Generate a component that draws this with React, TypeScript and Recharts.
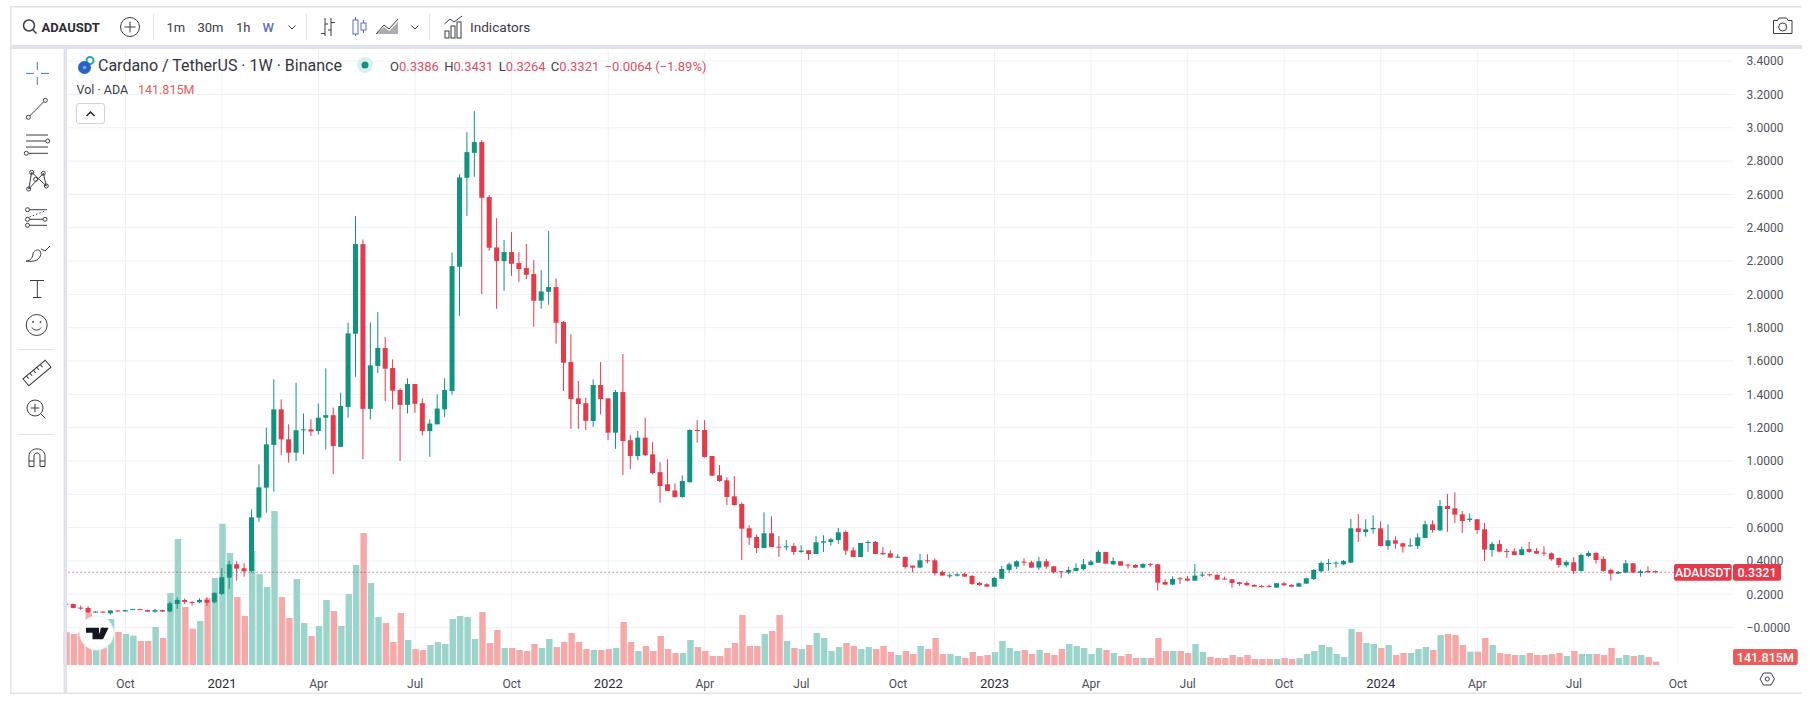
import { Bar, CartesianGrid, Cell, ComposedChart, ReferenceLine, XAxis, YAxis } from "recharts";

const opens = [
  0.144, 0.142, 0.12, 0.118, 0.09, 0.096, 0.086, 0.103, 0.097, 0.107,
  0.111, 0.105, 0.096, 0.105, 0.097, 0.142, 0.166, 0.154, 0.152, 0.166,
  0.152, 0.202, 0.3, 0.38, 0.356, 0.34, 0.66, 0.84, 1.097, 1.31,
  1.13, 1.05, 1.185, 1.19, 1.18, 1.26, 1.275, 1.085, 1.325, 1.764,
  2.302, 1.313, 1.57, 1.678, 1.558, 1.426, 1.337, 1.462, 1.347, 1.18,
  1.22, 1.31, 1.42, 2.166, 2.7, 2.85, 2.914, 2.584, 2.282, 2.2,
  2.254, 2.188, 2.158, 2.122, 1.962, 2.016, 2.044, 1.834, 1.594, 1.376,
  1.347, 1.24, 1.456, 1.376, 1.17, 1.414, 1.125, 1.03, 1.14, 1.04,
  0.933, 0.86, 0.823, 0.784, 0.873, 1.186, 1.186, 1.03, 0.914, 0.884,
  0.788, 0.742, 0.596, 0.544, 0.478, 0.566, 0.486, 0.484, 0.49, 0.454,
  0.464, 0.442, 0.51, 0.514, 0.526, 0.574, 0.464, 0.424, 0.508, 0.514,
  0.448, 0.446, 0.42, 0.424, 0.372, 0.36, 0.404, 0.404, 0.334, 0.31,
  0.312, 0.322, 0.31, 0.268, 0.26, 0.246, 0.294, 0.346, 0.366, 0.396,
  0.392, 0.36, 0.398, 0.368, 0.338, 0.33, 0.34, 0.352, 0.376, 0.39,
  0.454, 0.38, 0.398, 0.378, 0.376, 0.36, 0.382, 0.38, 0.274, 0.258,
  0.296, 0.294, 0.282, 0.312, 0.32, 0.316, 0.294, 0.29, 0.272, 0.268,
  0.256, 0.25, 0.25, 0.24, 0.266, 0.256, 0.246, 0.264, 0.292, 0.338,
  0.384, 0.384, 0.38, 0.39, 0.596, 0.574, 0.59, 0.596, 0.49, 0.524,
  0.506, 0.49, 0.49, 0.538, 0.62, 0.584, 0.73, 0.716, 0.68, 0.646,
  0.65, 0.59, 0.466, 0.502, 0.46, 0.458, 0.436, 0.472, 0.46, 0.45,
  0.446, 0.418, 0.374, 0.392, 0.34, 0.43, 0.448, 0.412, 0.346, 0.324,
  0.33, 0.386, 0.328, 0.34, 0.3386,
];

const closes = [
  0.139, 0.118, 0.117, 0.09, 0.096, 0.093, 0.103, 0.1, 0.105, 0.111,
  0.106, 0.096, 0.105, 0.096, 0.146, 0.166, 0.154, 0.152, 0.166, 0.15,
  0.208, 0.302, 0.38, 0.354, 0.338, 0.662, 0.842, 1.1, 1.31, 1.13,
  1.05, 1.184, 1.19, 1.177, 1.26, 1.275, 1.09, 1.33, 1.766, 2.302,
  1.313, 1.574, 1.678, 1.554, 1.422, 1.337, 1.462, 1.343, 1.18, 1.225,
  1.315, 1.426, 2.17, 2.702, 2.854, 2.914, 2.58, 2.28, 2.2, 2.254,
  2.184, 2.152, 2.118, 1.962, 2.018, 2.044, 1.83, 1.59, 1.372, 1.342,
  1.241, 1.456, 1.372, 1.17, 1.414, 1.12, 1.03, 1.14, 1.035, 0.927,
  0.85, 0.82, 0.784, 0.88, 1.186, 1.18, 1.024, 0.912, 0.88, 0.784,
  0.736, 0.594, 0.54, 0.478, 0.566, 0.484, 0.482, 0.488, 0.454, 0.462,
  0.442, 0.512, 0.518, 0.53, 0.572, 0.462, 0.424, 0.508, 0.514, 0.442,
  0.44, 0.42, 0.426, 0.364, 0.36, 0.404, 0.4, 0.326, 0.312, 0.314,
  0.32, 0.306, 0.262, 0.256, 0.246, 0.298, 0.352, 0.38, 0.398, 0.39,
  0.36, 0.398, 0.366, 0.332, 0.332, 0.346, 0.358, 0.38, 0.396, 0.454,
  0.384, 0.4, 0.372, 0.372, 0.36, 0.382, 0.378, 0.27, 0.258, 0.292,
  0.29, 0.282, 0.312, 0.318, 0.314, 0.288, 0.29, 0.268, 0.262, 0.254,
  0.246, 0.244, 0.246, 0.266, 0.254, 0.246, 0.266, 0.296, 0.346, 0.388,
  0.388, 0.39, 0.4, 0.596, 0.574, 0.59, 0.598, 0.49, 0.524, 0.504,
  0.486, 0.494, 0.542, 0.62, 0.586, 0.73, 0.712, 0.678, 0.64, 0.654,
  0.586, 0.468, 0.502, 0.456, 0.456, 0.436, 0.47, 0.454, 0.444, 0.444,
  0.41, 0.376, 0.394, 0.34, 0.436, 0.448, 0.406, 0.34, 0.324, 0.334,
  0.386, 0.33, 0.338, 0.332, 0.3321,
];

const highs = [
  0.148, 0.144, 0.132, 0.128, 0.098, 0.098, 0.104, 0.104, 0.107, 0.113,
  0.113, 0.108, 0.112, 0.108, 0.156, 0.182, 0.174, 0.158, 0.176, 0.182,
  0.212, 0.356, 0.4, 0.398, 0.386, 0.71, 0.98, 1.2, 1.49, 1.37,
  1.22, 1.47, 1.285, 1.25, 1.345, 1.556, 1.32, 1.41, 1.83, 2.47,
  2.33, 1.832, 1.894, 1.744, 1.61, 1.436, 1.496, 1.462, 1.376, 1.25,
  1.4, 1.496, 2.252, 2.722, 2.974, 3.1, 2.926, 2.596, 2.458, 2.326,
  2.374, 2.254, 2.302, 2.206, 2.146, 2.38, 2.096, 1.84, 1.76, 1.48,
  1.38, 1.49, 1.594, 1.376, 1.426, 1.642, 1.155, 1.18, 1.26, 1.113,
  0.993, 1.01, 0.866, 0.913, 1.19, 1.245, 1.245, 1.03, 0.976, 0.902,
  0.91, 0.752, 0.614, 0.558, 0.692, 0.668, 0.55, 0.526, 0.506, 0.494,
  0.464, 0.55, 0.554, 0.538, 0.598, 0.584, 0.484, 0.508, 0.524, 0.52,
  0.484, 0.464, 0.44, 0.428, 0.372, 0.442, 0.44, 0.416, 0.344, 0.324,
  0.326, 0.328, 0.316, 0.274, 0.266, 0.304, 0.37, 0.39, 0.404, 0.416,
  0.402, 0.424, 0.412, 0.368, 0.338, 0.366, 0.386, 0.412, 0.406, 0.466,
  0.454, 0.422, 0.398, 0.382, 0.38, 0.386, 0.388, 0.382, 0.29, 0.308,
  0.304, 0.31, 0.382, 0.334, 0.32, 0.322, 0.306, 0.29, 0.274, 0.278,
  0.26, 0.256, 0.258, 0.268, 0.272, 0.26, 0.27, 0.3, 0.35, 0.398,
  0.412, 0.398, 0.406, 0.652, 0.682, 0.65, 0.674, 0.638, 0.62, 0.548,
  0.51, 0.536, 0.566, 0.642, 0.644, 0.766, 0.802, 0.812, 0.7, 0.686,
  0.652, 0.628, 0.514, 0.526, 0.474, 0.476, 0.486, 0.514, 0.478, 0.488,
  0.452, 0.42, 0.404, 0.422, 0.444, 0.458, 0.452, 0.428, 0.354, 0.34,
  0.406, 0.386, 0.348, 0.368, 0.3431,
];

const lows = [
  0.137, 0.116, 0.106, 0.085, 0.088, 0.09, 0.077, 0.097, 0.095, 0.106,
  0.105, 0.094, 0.09, 0.094, 0.092, 0.112, 0.142, 0.132, 0.146, 0.132,
  0.146, 0.196, 0.232, 0.282, 0.306, 0.33, 0.636, 0.69, 0.816, 1.035,
  0.99, 1.0, 1.04, 1.15, 1.16, 1.07, 0.92, 1.085, 1.26, 1.506,
  1.011, 1.25, 1.528, 1.36, 1.31, 1.0, 1.285, 1.29, 1.153, 1.025,
  1.22, 1.265, 1.398, 1.872, 2.47, 2.706, 2.002, 2.262, 1.914, 2.022,
  2.112, 2.076, 2.092, 1.806, 1.914, 1.938, 1.704, 1.42, 1.193, 1.193,
  1.185, 1.205, 1.28, 1.126, 1.073, 0.916, 0.951, 1.005, 1.03, 0.92,
  0.75, 0.82, 0.78, 0.78, 0.87, 1.11, 1.02, 0.912, 0.875, 0.735,
  0.732, 0.406, 0.496, 0.448, 0.478, 0.484, 0.424, 0.464, 0.436, 0.45,
  0.406, 0.442, 0.454, 0.492, 0.502, 0.436, 0.424, 0.424, 0.454, 0.442,
  0.436, 0.42, 0.42, 0.354, 0.334, 0.36, 0.386, 0.312, 0.312, 0.298,
  0.306, 0.306, 0.256, 0.25, 0.246, 0.244, 0.292, 0.334, 0.352, 0.372,
  0.358, 0.346, 0.354, 0.324, 0.298, 0.32, 0.338, 0.342, 0.372, 0.388,
  0.384, 0.376, 0.372, 0.354, 0.358, 0.358, 0.364, 0.222, 0.256, 0.256,
  0.262, 0.278, 0.28, 0.304, 0.306, 0.286, 0.288, 0.24, 0.25, 0.252,
  0.244, 0.24, 0.242, 0.24, 0.252, 0.242, 0.244, 0.262, 0.286, 0.332,
  0.342, 0.36, 0.374, 0.388, 0.514, 0.546, 0.564, 0.49, 0.468, 0.474,
  0.45, 0.486, 0.472, 0.536, 0.57, 0.58, 0.574, 0.628, 0.568, 0.634,
  0.564, 0.4, 0.426, 0.452, 0.418, 0.434, 0.432, 0.45, 0.442, 0.43,
  0.402, 0.36, 0.362, 0.32, 0.338, 0.422, 0.384, 0.336, 0.282, 0.322,
  0.328, 0.328, 0.306, 0.33, 0.3264,
];

// weekly volume in millions of ADA
const volumes = [
  1390, 1319, 1375, 2198, 1064, 1177, 1957, 1404, 1319, 1248,
  1021, 1021, 1617, 1149, 3063, 5360, 2467, 1546, 1872, 2836,
  3701, 6012, 4764, 2893, 2084, 4850, 3871, 3318, 6551, 2893,
  1999, 3658, 1787, 1234, 1659, 2765, 2297, 1659, 3020, 4254,
  5615, 3488, 2042, 1787, 978, 2212, 1064, 681, 638, 851,
  978, 893, 1957, 2084, 2042, 1106, 2255, 936, 1489, 723,
  723, 638, 596, 893, 723, 1106, 766, 978, 1361, 978,
  681, 638, 638, 681, 723, 1829, 978, 596, 808, 596,
  1234, 681, 510, 510, 1064, 766, 596, 383, 383, 723,
  936, 2127, 808, 808, 1319, 1446, 2127, 1021, 723, 681,
  851, 1361, 1149, 596, 766, 936, 808, 681, 766, 681,
  808, 553, 425, 596, 468, 808, 681, 1149, 468, 468,
  383, 298, 553, 383, 425, 553, 1021, 723, 596, 638,
  468, 638, 510, 425, 681, 893, 808, 723, 468, 723,
  638, 510, 383, 468, 298, 298, 298, 1149, 596, 596,
  596, 510, 893, 553, 340, 298, 298, 425, 340, 425,
  255, 255, 255, 255, 298, 255, 298, 468, 596, 851,
  766, 468, 340, 1531, 1404, 936, 893, 723, 851, 425,
  510, 510, 681, 766, 638, 1276, 1319, 1276, 851, 567,
  567, 1149, 851, 510, 468, 425, 425, 510, 425, 425,
  468, 510, 383, 596, 468, 468, 468, 425, 723, 298,
  425, 383, 425, 340, 141.815,
];

// empty weeks to the right of the last candle, so the time axis runs on to Oct 2024
const FUTURE_WEEKS = 10;
const tickWeeks = [8, 21, 34, 47, 60, 73, 86, 99, 112, 125, 138, 151, 164, 177, 190, 203, 217];
const tickLabels = ["Oct", "2021", "Apr", "Jul", "Oct", "2022", "Apr", "Jul", "Oct", "2023", "Apr", "Jul", "Oct", "2024", "Apr", "Jul", "Oct"];
const priceTicks = [3.4, 3.2, 3.0, 2.8, 2.6, 2.4, 2.2, 2.0, 1.8, 1.6, 1.4, 1.2, 1.0, 0.8, 0.6, 0.4, 0.2, 0];
const LAST_PRICE = 0.3321;

const GREEN = "#0f9480";
const RED = "#e63a4a";
const VOL_GREEN = "#9bd4ca";
const VOL_RED = "#f6a9a9";
const GRID = "#eff1f5";
const BORDER = "#e0e3eb";
const INK = "#3a3d45";
const FONT = "Roboto, sans-serif";

const chartData = Array.from({ length: opens.length + FUTURE_WEEKS }, (_, i) => ({
  week: i,
  open: opens[i],
  close: closes[i],
  range: i < opens.length ? [lows[i], highs[i]] : undefined,
  volume: volumes[i],
}));

function Candle(props: any) {
  const { x, y, width, height, payload } = props;
  if (payload.open === undefined || !height) return null;
  const [low, high] = payload.range;
  const perUnit = height / (high - low);
  const top = y + (high - Math.max(payload.open, payload.close)) * perUnit;
  const bodyHeight = Math.max(1, Math.abs(payload.open - payload.close) * perUnit);
  const color = payload.close >= payload.open ? GREEN : RED;
  return (
    <g>
      <rect x={x + width / 2 - 0.5} y={y} width={1} height={height} fill={color} />
      <rect x={x} y={top} width={width} height={bodyHeight} fill={color} />
    </g>
  );
}

function TimeTick(props: any) {
  const { x, y, payload } = props;
  const label = tickLabels[tickWeeks.indexOf(payload.value)];
  const isYear = label.length === 4;
  return (
    <text x={x} y={y + 14.5} textAnchor="middle" fontFamily={FONT} fontSize={isYear ? 13 : 12} fill={isYear ? "#2a2d35" : "#4a4d55"}>
      {label}
    </text>
  );
}

function Chrome() {
  const line = { stroke: INK, strokeWidth: 1, fill: "none" };
  return (
    <svg width={1810} height={707} style={{ position: "absolute", left: 0, top: 0 }} fontFamily={FONT}>
      {/* frame */}
      <rect x={0} y={0} width={1810} height={45} fill="#fff" />
      <rect x={0} y={0} width={63.5} height={707} fill="#fff" />
      <rect x={10} y={6} width={1792} height={1.5} fill={BORDER} />
      <rect x={10} y={45} width={1792} height={4} fill={BORDER} />
      <rect x={63.5} y={45} width={3.5} height={648} fill={BORDER} />
      <rect x={10} y={6} width={1.5} height={687} fill={BORDER} />
      <rect x={10} y={692.5} width={1792} height={1.5} fill={BORDER} />

      {/* top toolbar */}
      <circle cx={29} cy={25.5} r={5.5} {...line} strokeWidth={1.5} />
      <path d="M33 30 L36.5 33.5" {...line} strokeWidth={1.5} />
      <text x={41.5} y={31.5} fontSize={13} fontWeight={700} fill="#2a2d35">ADAUSDT</text>
      <circle cx={130} cy={27} r={9.5} {...line} />
      <path d="M130 21.5 V32.5 M124.5 27 H135.5" {...line} />
      <rect x={153} y={14} width={1} height={26} fill={BORDER} />
      <text x={166.5} y={31.5} fontSize={13} fill={INK}>1m</text>
      <text x={197.5} y={31.5} fontSize={13} fill={INK}>30m</text>
      <text x={236} y={31.5} fontSize={13} fill={INK}>1h</text>
      <text x={262.5} y={31.5} fontSize={13} fontWeight={500} fill="#5a6fc4">W</text>
      <path d="M288.5 25.5 L292 29 L295.5 25.5" {...line} />
      <rect x={306} y={14} width={1} height={26} fill={BORDER} />
      <path d="M325 18 V36 M331 18 V36 M321 33.5 H325 M331 22.5 H335 M325 24 H328 M328 30 H331" {...line} />
      <path d="M355.5 17 V36 M363.5 20 V33" stroke="#5a6fc4" fill="none" />
      <rect x={353} y={20} width={5} height={14} fill="#fff" stroke="#5a6fc4" />
      <rect x={361} y={23} width={5} height={7} fill="#fff" stroke="#5a6fc4" />
      <path d="M376 34 L384 25 L389 29 L398 19" {...line} />
      <path d="M376 34 L384 27 L389 31 L398 22 V34 Z" fill="#777" opacity={0.6} />
      <path d="M411.5 25.5 L415 29 L418.5 25.5" {...line} />
      <rect x={429} y={14} width={1} height={26} fill={BORDER} />
      <path d="M444.5 24 L450 19 L454 22 L462 16" {...line} />
      <rect x={445} y={31} width={4} height={7} {...line} />
      <rect x={451} y={26} width={4} height={12} {...line} />
      <rect x={457} y={22} width={4} height={16} {...line} />
      <text x={470} y={31.5} fontSize={13.6} fill={INK}>Indicators</text>
      <path d="M1773.5 20.5 H1777.5 L1779 18 H1786.5 L1788 20.5 H1792 V33.5 H1773.5 Z" {...line} strokeLinejoin="round" />
      <circle cx={1782.7} cy={27} r={4} {...line} />

      {/* legend */}
      <circle cx={90} cy={60.5} r={3.5} fill="none" stroke="#2aa79b" strokeWidth={2} />
      <circle cx={84.5} cy={67.5} r={6.5} fill="#2962c8" />
      <circle cx={84.5} cy={67.5} r={1.8} fill="#7fa3e6" />
      <text x={98} y={71} fontSize={16} fill="#33363d">Cardano / TetherUS · 1W · Binance</text>
      <circle cx={365} cy={65} r={8} fill="#dcefec" />
      <circle cx={365} cy={65} r={3.5} fill="#0f9480" />
      <text x={390} y={70.5} fontSize={13} fill="#e0505f">
        <tspan fill={INK}>O</tspan>0.3386{" "}
        <tspan fill={INK} dx={2}>H</tspan>0.3431{" "}
        <tspan fill={INK} dx={2}>L</tspan>0.3264{" "}
        <tspan fill={INK} dx={2}>C</tspan>0.3321{" "}
        <tspan dx={2}>−0.0064 (−1.89%)</tspan>
      </text>
      <text x={76.5} y={93.5} fontSize={12.5} fill={INK}>Vol · ADA</text>
      <text x={138} y={93.5} fontSize={12.5} fill="#e65c5c">141.815M</text>
      <rect x={76.5} y={103.5} width={28} height={20} rx={2.5} fill="#fff" stroke="#cfd2d9" />
      <path d="M86.5 116 L90.5 112 L94.5 116" fill="none" stroke="#222" strokeWidth={1.5} />

      {/* left toolbar */}
      <path d="M37.3 62 V70 M37.3 77 V85 M26 73.4 H34 M41 73.4 H49" stroke="#4f74b8" fill="none" />
      <g {...line}>
        <path d="M29.7 116 L44 101.5" />
        <circle cx={28.3} cy={117.3} r={2} />
        <circle cx={45.3} cy={100.3} r={2} />
        <path d="M26 135 H48 M26 141 H45.5 M26 147 H48 M28.5 153.3 H48" />
        <circle cx={47.7} cy={141} r={2} />
        <circle cx={26.3} cy={153.3} r={2} />
        <path d="M28.7 189 L31.7 172.3 L46.3 186 L43.3 173.3 L28.7 189" />
        <circle cx={28.7} cy={189} r={2} />
        <circle cx={31.7} cy={172.3} r={2} />
        <circle cx={35.7} cy={179.3} r={2} />
        <circle cx={43.3} cy={173.3} r={2} />
        <circle cx={46.3} cy={186} r={2} />
        <path d="M29.5 209.7 H47 M29.5 219.3 H43 M29.5 225.3 H47" />
        <path d="M29.5 217 L45 211" strokeDasharray="1.5 2" />
        <circle cx={27.5} cy={209.7} r={2} />
        <circle cx={27.5} cy={219.3} r={2} />
        <circle cx={27.5} cy={225.3} r={2} />
        <circle cx={45} cy={219.3} r={2} />
        <path d="M26 261 C31 261 33 257 33 253 C35 250 38 249 40 251 C42 254 40 258 37 260 C34 261.5 30 261.5 26 261 Z M41 249 L45 251 L50 246" />
        <path d="M30 280.5 H44 M37.3 280.5 V297.5 M33 297.5 H41.5" />
        <circle cx={36.7} cy={325} r={10.5} />
        <path d="M32 327.5 C33.5 331 39.5 331 41 327.5" />
        <circle cx={33} cy={322} r={0.6} />
        <circle cx={40.5} cy={322} r={0.6} />
        <g transform="rotate(-40 37 373)">
          <rect x={22.5} y={368.5} width={29} height={9} />
          <path d="M27 368.5 V372 M31.5 368.5 V372 M36 368.5 V372 M40.5 368.5 V372 M45 368.5 V372" />
        </g>
        <circle cx={35} cy={408} r={8} />
        <path d="M41 414 L45.5 418.5 M35 403.7 V412.3 M30.7 408 H39.3" />
        <path d="M29 466.5 V456 C29 446.5 45 446.5 45 456 V466.5 H40 V456 C40 452 34 452 34 456 V466.5 Z M29 461 H34 M40 461 H45" />
      </g>
      <rect x={18} y={349} width={36} height={1} fill={BORDER} />
      <rect x={18} y={434} width={36} height={1} fill={BORDER} />

      {/* tradingview mark */}
      <circle cx={96.7} cy={633} r={17} fill="#fff" stroke="#eef0f3" />
      <path d="M86 627.7 H99 V639.3 H92.5 V632.7 H86 Z M108.6 627.7 L103 639.3 H96.5 L102 627.7 Z" fill="#131722" />
      <circle cx={102.6} cy={630} r={2.4} fill="#131722" />

      {/* price tags */}
      <rect x={1674} y={564} width={57.7} height={16.7} rx={2} fill={RED} />
      <text x={1702.8} y={577} textAnchor="middle" fontSize={12.5} fontWeight={500} fill="#fff">ADAUSDT</text>
      <rect x={1733} y={564} width={48} height={16.7} rx={2} fill={RED} />
      <text x={1757} y={577} textAnchor="middle" fontSize={12.5} fontWeight={500} fill="#fff">0.3321</text>
      <rect x={1733} y={649} width={64.7} height={16} rx={2} fill="#ec5a5a" />
      <text x={1765.3} y={661.5} textAnchor="middle" fontSize={12.5} fontWeight={500} fill="#fff">141.815M</text>

      {/* settings */}
      <path d="M1760 679 L1763.5 673 H1771 L1774.5 679 L1771 685 H1763.5 Z" {...line} />
      <circle cx={1767.3} cy={679} r={2} {...line} />
    </svg>
  );
}

export default function App() {
  return (
    <div style={{ position: "absolute", left: 0, top: 0, width: 1810, height: 707, background: "#fff", overflow: "hidden" }}>
      <ComposedChart
        width={1810}
        height={707}
        data={chartData}
        margin={{ top: 50, right: 0, bottom: 14, left: 62.3 }}
        barCategoryGap={0}
      >
        <CartesianGrid xAxisId="time" yAxisId="price" stroke={GRID} syncWithTicks />
        <XAxis
          xAxisId="time"
          dataKey="week"
          ticks={tickWeeks}
          interval={0}
          height={28}
          tickLine={false}
          axisLine={false}
          tick={<TimeTick />}
        />
        <XAxis xAxisId="volumeTime" dataKey="week" hide />
        <YAxis
          yAxisId="price"
          orientation="right"
          width={76.4}
          domain={[-0.2245, 3.467]}
          allowDataOverflow
          ticks={priceTicks}
          interval={0}
          tickLine={false}
          axisLine={false}
          tickMargin={7}
          tick={{ fontSize: 12, fill: "#50535b", fontFamily: FONT, textAnchor: "start" }}
          tickFormatter={(v: number) => (v === 0 ? "−0.0000" : v.toFixed(4))}
        />
        <YAxis yAxisId="volume" hide domain={[0, 26162]} allowDataOverflow />
        <Bar xAxisId="volumeTime" yAxisId="volume" dataKey="volume" barSize={6.4} isAnimationActive={false}>
          {chartData.map((d) => (
            <Cell key={d.week} fill={d.close >= d.open ? VOL_GREEN : VOL_RED} />
          ))}
        </Bar>
        <ReferenceLine xAxisId="time" yAxisId="price" y={LAST_PRICE} stroke="#8f3a48" strokeDasharray="1 3" />
        <Bar xAxisId="time" yAxisId="price" dataKey="range" barSize={5} shape={<Candle />} isAnimationActive={false} />
      </ComposedChart>
      <Chrome />
    </div>
  );
}
